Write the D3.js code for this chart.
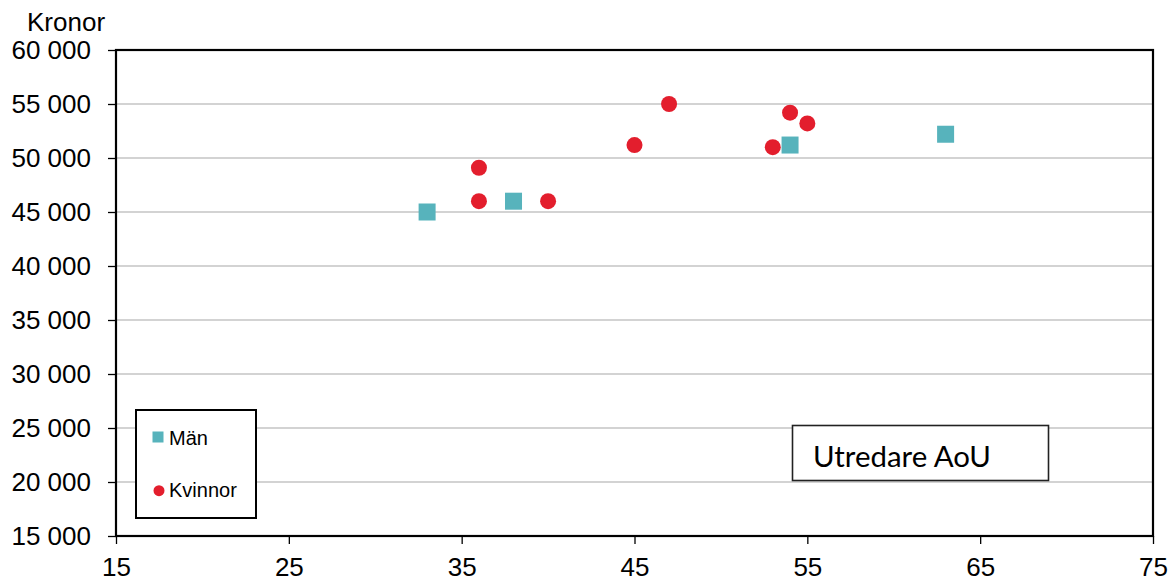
<!DOCTYPE html>
<html><head><meta charset="utf-8">
<script src="https://cdn.jsdelivr.net/npm/d3@7"></script>
<style>body{margin:0;background:#fff}svg{display:block}</style>
</head><body>
<script>
const manX = [33, 38, 54, 63];
const manY = [45000, 46000, 51200, 52200];
const kvinnorX = [36, 36, 40, 45, 47, 53, 54, 55];
const kvinnorY = [49100, 46000, 46000, 51200, 55000, 51000, 54200, 53200];
const xTicks = [15, 25, 35, 45, 55, 65, 75];
const yTicks = [15000, 20000, 25000, 30000, 35000, 40000, 45000, 50000, 55000, 60000];
const seriesNames = ["Män", "Kvinnor"];
const yTitle = "Kronor";
const boxLabel = "Utredare AoU";

const W = 1170, H = 581;
const m = {l: 116, r: 1153, t: 50, b: 536};
const svg = d3.select("body").append("svg").attr("width", W).attr("height", H);
const x = d3.scaleLinear().domain([15, 75]).range([m.l, m.r]);
const y = d3.scaleLinear().domain([15000, 60000]).range([m.b, m.t]);
const loc = d3.formatLocale({decimal: ",", thousands: " ", grouping: [3], currency: ["", ""]});
const fmt = loc.format(",");
const font = "'Liberation Sans', Arial, sans-serif";

// gridlines
svg.append("g").selectAll("line").data(yTicks.filter(d => d > 15000 && d < 60000)).join("line")
  .attr("x1", m.l).attr("x2", m.r).attr("y1", d => y(d)).attr("y2", d => y(d))
  .attr("stroke", "#c4c4c4").attr("stroke-width", 1.3);

// axes
const ya = svg.append("g").attr("transform", `translate(${m.l},0)`)
  .call(d3.axisLeft(y).tickValues(yTicks).tickFormat(fmt).tickSize(8).tickPadding(17));
const xa = svg.append("g").attr("transform", `translate(0,${m.b})`)
  .call(d3.axisBottom(x).tickValues(xTicks).tickSize(8).tickPadding(14));
[ya, xa].forEach(a => {
  a.select(".domain").remove();
  a.selectAll(".tick line").attr("stroke", "#000").attr("stroke-width", 1.3);
  a.selectAll("text").attr("font-family", font).attr("font-size", 26).attr("fill", "#000");
});
xa.selectAll("text").attr("dy", "0.71em");

// frame
svg.append("rect").attr("x", m.l).attr("y", m.t).attr("width", m.r - m.l).attr("height", m.b - m.t)
  .attr("fill", "none").attr("stroke", "#000").attr("stroke-width", 2.2);

svg.append("text").attr("x", 27).attr("y", 31).text(yTitle)
  .attr("font-family", font).attr("font-size", 26).attr("fill", "#000");

const teal = "#57B3BC", red = "#E31E2D";
const sq = 17;
svg.append("g").selectAll("rect").data(manX.map((d, i) => [d, manY[i]])).join("rect")
  .attr("x", d => x(d[0]) - sq / 2).attr("y", d => y(d[1]) - sq / 2)
  .attr("width", sq).attr("height", sq).attr("fill", teal);
svg.append("g").selectAll("circle").data(kvinnorX.map((d, i) => [d, kvinnorY[i]])).join("circle")
  .attr("cx", d => x(d[0])).attr("cy", d => y(d[1])).attr("r", 8).attr("fill", red);

// legend
const lg = svg.append("g");
lg.append("rect").attr("x", 136).attr("y", 410).attr("width", 120).attr("height", 108)
  .attr("fill", "#fff").attr("stroke", "#000").attr("stroke-width", 2);
lg.append("rect").attr("x", 152.5).attr("y", 431.5).attr("width", 11).attr("height", 11).attr("fill", teal);
lg.append("circle").attr("cx", 159).attr("cy", 490.7).attr("r", 5.5).attr("fill", red);
lg.append("text").attr("x", 169).attr("y", 445).text(seriesNames[0])
  .attr("font-family", font).attr("font-size", 20).attr("fill", "#000");
lg.append("text").attr("x", 169).attr("y", 497).text(seriesNames[1])
  .attr("font-family", font).attr("font-size", 20).attr("fill", "#000");

// text box
svg.append("rect").attr("x", 792.5).attr("y", 425.5).attr("width", 256).attr("height", 55)
  .attr("fill", "#fff").attr("stroke", "#222").attr("stroke-width", 1.6);
svg.append("text").attr("x", 813).attr("y", 467).text(boxLabel)
  .attr("font-family", "Lato, 'Open Sans', sans-serif").attr("font-size", 29).attr("fill", "#000")
  .attr("textLength", 178).attr("lengthAdjust", "spacingAndGlyphs");
</script>
</body></html>
